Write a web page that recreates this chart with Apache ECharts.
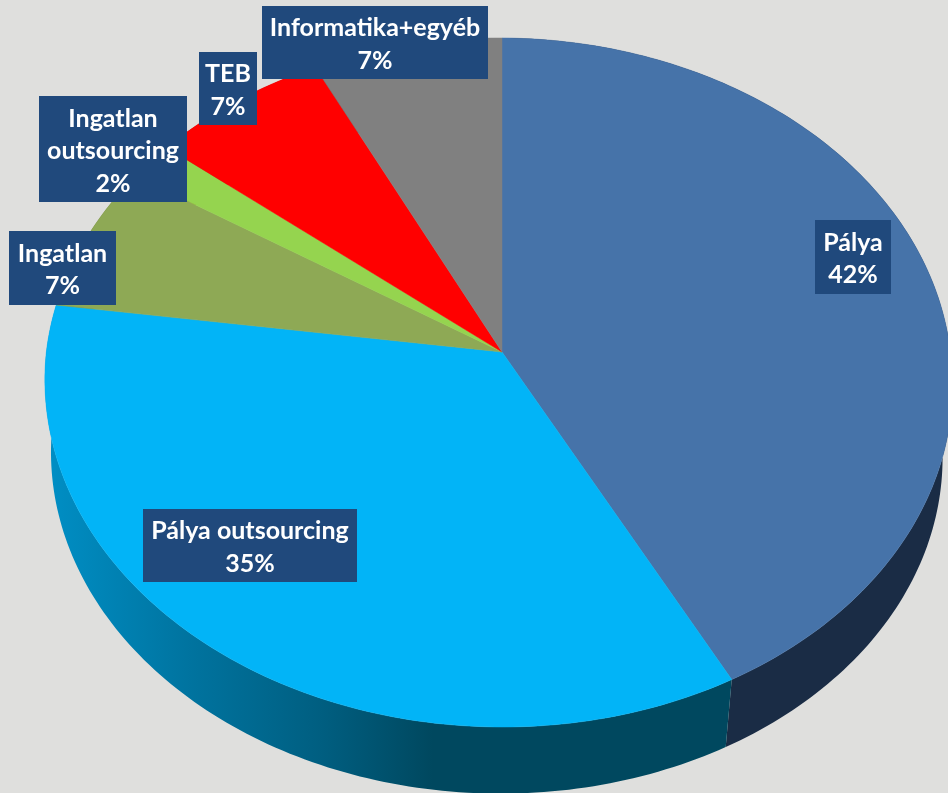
<!DOCTYPE html>
<html>
<head>
<meta charset="utf-8">
<script src="https://cdn.jsdelivr.net/npm/echarts@6/dist/echarts.min.js"></script>
<style>
  html, body { margin: 0; padding: 0; background: #dfdfdd; overflow: hidden; }
  #main { width: 948px; height: 793px; }
</style>
</head>
<body>
<div id="main"></div>
<script>
// adatok (a cimken kerekitve jelenik meg)
const categories = ["Pálya", "Pálya outsourcing", "Ingatlan", "Ingatlan outsourcing", "TEB", "Informatika+egyéb"];
const labelNames = ["Pálya", "Pálya outsourcing", "Ingatlan", "Ingatlan\noutsourcing", "TEB", "Informatika+egyéb"];
const shares = [42.35, 34.85, 6.8, 1.8, 6.87, 7.33];

const topColors = ["#4673a9", "#02b4f7", "#8ea955", "#95d44f", "#ff0000", "#808080"];
const wallColors = ["#1a2c45", "#00485f", "#5a6b36", "#5f8732", "#a00000", "#505050"];
// cimke dobozok: x, y, w, h
const labelBoxes = [
  [815, 220, 76, 74],
  [143, 509, 214, 73],
  [9, 231, 107, 74],
  [39, 96, 148, 106],
  [199, 52, 58, 73],
  [262, 6, 226, 73]
];

// perspektiva: a kor lapjat es aljat vetitjuk
const perspY = 0.0885;
const perspX = 0.008;
const shear = 4; // csak az also felre hat
const topFace = { cx: 502, cy: 352, a: 452, b: 341.8 };
const bottomFace = { cx: 500, cy: 425, a: 444, b: 336 };
const total = shares.reduce((s, v) => s + v, 0);

function project(face, angle) {
  const u = Math.sin(angle);
  const v = -Math.cos(angle);
  const w = 1 - perspY * v + perspX * u;
  return [face.cx + (face.a * u + shear * Math.max(v, 0)) / w, face.cy + (face.b * v) / w];
}

function arc(face, start, end) {
  const steps = Math.max(2, Math.ceil((end - start) / (Math.PI / 180)));
  const pts = [];
  for (let i = 0; i <= steps; i++) {
    pts.push(project(face, start + ((end - start) * i) / steps));
  }
  return pts;
}

function sliceAngles(index) {
  let before = 0;
  for (let i = 0; i < index; i++) before += shares[i];
  return [(before / total) * Math.PI * 2, ((before + shares[index]) / total) * Math.PI * 2];
}

function renderWall(params) {
  const i = params.dataIndex;
  const [start, end] = sliceAngles(i);
  const pts = arc(topFace, start, end).concat(arc(bottomFace, start, end).reverse());
  let fill = wallColors[i];
  if (i === 1) {
    // a bal oldali fal vilagosodik
    fill = new echarts.graphic.LinearGradient(50, 0, 733, 0, [
      { offset: 0, color: "#008ec4" },
      { offset: 0.2, color: "#0074a0" },
      { offset: 0.4, color: "#005e80" },
      { offset: 0.56, color: "#00485f" },
      { offset: 1, color: "#00485f" }
    ], true);
  }
  return { type: "polygon", shape: { points: pts }, style: { fill: fill } };
}

function renderTop(params) {
  const i = params.dataIndex;
  const [start, end] = sliceAngles(i);
  const pts = [[topFace.cx, topFace.cy]].concat(arc(topFace, start, end));
  return {
    type: "polygon",
    shape: { points: pts },
    style: { fill: topColors[i], stroke: topColors[i], lineWidth: 0.5 }
  };
}

function renderLabel(params, api) {
  const i = params.dataIndex;
  const box = labelBoxes[i];
  return {
    type: "group",
    children: [
      {
        type: "rect",
        shape: { x: box[0], y: box[1], width: box[2], height: box[3] },
        style: { fill: "#20497c" }
      },
      {
        type: "text",
        style: {
          x: box[0] + box[2] / 2,
          y: box[1] + box[3] / 2 + 2,
          text: labelNames[i] + "\n" + Math.round(api.value(0)) + "%",
          fill: "#ffffff",
          font: "bold 25px Lato",
          lineHeight: 32.5,
          align: "center",
          verticalAlign: "middle"
        }
      }
    ]
  };
}

const seriesData = categories.map((name, i) => ({ name: name, value: shares[i] }));
const chart = echarts.init(document.getElementById("main"));
chart.setOption({
  backgroundColor: "#dfdfdd",
  animation: false,
  series: [
    { type: "custom", coordinateSystem: "none", renderItem: renderWall, data: seriesData, silent: true },
    { type: "custom", coordinateSystem: "none", renderItem: renderTop, data: seriesData, silent: true },
    { type: "custom", coordinateSystem: "none", renderItem: renderLabel, data: seriesData, silent: true }
  ]
});
</script>
</body>
</html>
